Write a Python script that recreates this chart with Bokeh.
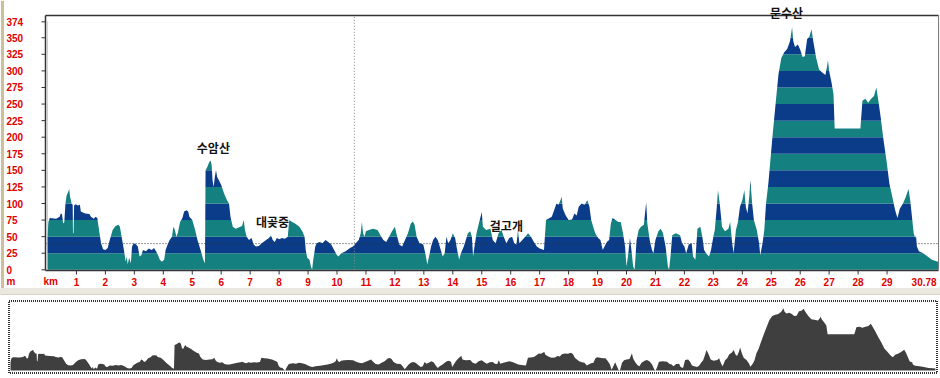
from bokeh.plotting import figure
from bokeh.models import Range1d
from bokeh.layouts import column
from bokeh.core.properties import value
from bokeh.embed import file_html
from bokeh.resources import INLINE

# ---------------- data ----------------
km = [0.00, 0.03, 0.08, 0.30, 0.42, 0.46, 0.50, 0.54, 0.58, 0.62, 0.66, 0.72, 0.75, 0.78, 0.83, 0.87, 0.88, 0.90,
      0.92, 0.97, 1.05, 1.12, 1.15, 1.30, 1.45, 1.50, 1.60, 1.66, 1.72, 1.78, 1.85, 1.92, 2.00, 2.08, 2.15, 2.25,
      2.35, 2.45, 2.50, 2.58, 2.64, 2.70, 2.74, 2.77, 2.82, 2.88, 2.92, 2.98, 3.06, 3.12, 3.18, 3.24, 3.30, 3.40,
      3.50, 3.60, 3.68, 3.75, 3.82, 3.88, 3.95, 4.03, 4.08, 4.15, 4.22, 4.30, 4.35, 4.40, 4.45, 4.50, 4.58, 4.66,
      4.72, 4.80, 4.86, 4.90, 5.00, 5.10, 5.18, 5.25, 5.32, 5.38, 5.44, 5.46, 5.52, 5.58, 5.63, 5.67, 5.70, 5.74,
      5.78, 5.82, 5.86, 5.92, 6.00, 6.10, 6.20, 6.27, 6.32, 6.40, 6.50, 6.62, 6.72, 6.78, 6.82, 6.88, 6.96, 7.05,
      7.12, 7.20, 7.30, 7.40, 7.55, 7.65, 7.72, 7.78, 7.85, 7.92, 8.00, 8.10, 8.20, 8.30, 8.35, 8.45, 8.55, 8.70,
      8.80, 8.88, 8.92, 8.97, 9.05, 9.10, 9.14, 9.18, 9.25, 9.30, 9.40, 9.50, 9.60, 9.70, 9.80, 9.90, 10.00, 10.05,
      10.15, 10.30, 10.45, 10.55, 10.65, 10.75, 10.82, 10.86, 10.90, 10.95, 11.00, 11.10, 11.25, 11.40, 11.50,
      11.60, 11.70, 11.80, 11.90, 12.00, 12.05, 12.15, 12.25, 12.35, 12.45, 12.55, 12.62, 12.68, 12.75, 12.85,
      12.98, 13.05, 13.12, 13.18, 13.25, 13.32, 13.40, 13.48, 13.55, 13.65, 13.72, 13.78, 13.84, 13.92, 14.00,
      14.08, 14.15, 14.22, 14.28, 14.38, 14.45, 14.52, 14.60, 14.66, 14.70, 14.75, 14.82, 14.90, 14.96, 15.00,
      15.04, 15.15, 15.30, 15.38, 15.48, 15.58, 15.68, 15.76, 15.85, 15.95, 16.05, 16.12, 16.20, 16.25, 16.30,
      16.40, 16.50, 16.60, 16.70, 16.80, 16.90, 17.00, 17.15, 17.22, 17.30, 17.42, 17.50, 17.58, 17.65, 17.72,
      17.76, 17.80, 17.90, 18.00, 18.12, 18.20, 18.28, 18.35, 18.45, 18.55, 18.65, 18.72, 18.78, 18.85, 18.92,
      19.02, 19.10, 19.18, 19.24, 19.32, 19.40, 19.46, 19.52, 19.62, 19.72, 19.80, 19.88, 19.95, 20.00, 20.05,
      20.12, 20.17, 20.23, 20.28, 20.35, 20.42, 20.50, 20.60, 20.68, 20.72, 20.80, 20.88, 20.93, 21.00, 21.10,
      21.18, 21.26, 21.35, 21.43, 21.47, 21.52, 21.58, 21.70, 21.85, 21.92, 22.00, 22.06, 22.15, 22.25, 22.30,
      22.38, 22.45, 22.55, 22.62, 22.68, 22.75, 22.85, 22.92, 23.00, 23.05, 23.12, 23.16, 23.22, 23.30, 23.40,
      23.52, 23.58, 23.65, 23.70, 23.78, 23.85, 23.92, 24.00, 24.07, 24.12, 24.18, 24.24, 24.28, 24.34, 24.40,
      24.50, 24.58, 24.62, 24.70, 24.76, 24.82, 24.90, 24.96, 25.05, 25.15, 25.25, 25.35, 25.45, 25.55, 25.65,
      25.72, 25.76, 25.82, 25.92, 26.00, 26.08, 26.16, 26.24, 26.32, 26.39, 26.45, 26.55, 26.65, 26.75, 26.87,
      26.92, 26.96, 27.00, 27.08, 27.15, 27.19, 28.08, 28.15, 28.25, 28.35, 28.45, 28.55, 28.63, 28.70, 28.78,
      28.88, 28.98, 29.08, 29.18, 29.28, 29.36, 29.44, 29.55, 29.65, 29.74, 29.80, 29.86, 29.92, 29.97, 30.00,
      30.03, 30.10, 30.25, 30.40, 30.55, 30.70, 30.78]
elev = [48, 72, 78, 77, 80, 85, 84, 70, 72, 100, 112, 118, 122, 110, 100, 98, 55, 55,
        97, 99, 97, 98, 88, 85, 84, 80, 77, 80, 78, 60, 40, 31, 30, 33, 45, 60,
        66, 68, 65, 45, 30, 12, 20, 8, 18, 10, 35, 40, 38, 35, 20, 22, 30, 28,
        32, 30, 33, 28, 22, 15, 12, 15, 30, 38, 45, 50, 65, 60, 50, 55, 72, 78,
        88, 90, 88, 80, 75, 60, 45, 35, 25, 15, 10, 150, 155, 162, 165, 158, 135, 125,
        140, 150, 140, 135, 128, 115, 105, 100, 80, 65, 62, 64, 66, 75, 60, 50, 45, 48,
        38, 35, 36, 40, 45, 48, 52, 45, 42, 48, 46, 48, 47, 50, 75, 72, 70, 65,
        58, 50, 30, 18, 15, 5, 0, 15, 35, 40, 42, 40, 45, 42, 38, 30, 22, 20,
        25, 28, 33, 35, 40, 45, 55, 72, 55, 50, 58, 60, 62, 60, 52,
        45, 42, 50, 58, 65, 55, 38, 35, 45, 55, 70, 73, 68, 50, 40,
        38, 25, 8, 20, 35, 45, 50, 45, 35, 20, 25, 50, 40, 45, 55,
        48, 30, 15, 25, 35, 45, 55, 58, 50, 20, 35, 55, 70, 80, 87,
        65, 60, 62, 45, 40, 55, 60, 50, 40, 48, 50, 40, 38, 60, 40,
        45, 50, 55, 50, 42, 35, 32, 30, 75, 77, 80, 90, 100, 98, 105,
        110, 92, 82, 75, 76, 85, 82, 95, 100, 98, 105, 95, 75, 65, 55,
        48, 45, 30, 35, 42, 45, 70, 78, 75, 72, 72, 55, 35, 5, 20,
        48, 30, 5, 0, 45, 60, 65, 68, 102, 70, 45, 30, 25, 45, 58,
        62, 55, 35, 5, 0, 20, 52, 55, 52, 40, 35, 25, 38, 40, 20,
        15, 62, 65, 50, 30, 25, 20, 30, 50, 60, 95, 120, 100, 65, 58,
        62, 72, 40, 25, 60, 72, 95, 105, 120, 95, 85, 110, 135, 100, 75,
        60, 40, 22, 40, 60, 100, 130, 160, 205, 250, 295, 320, 328, 333, 345,
        366, 345, 336, 340, 332, 321, 322, 348, 352, 363, 345, 320, 302, 298, 294,
        305, 316, 300, 283, 265, 213, 213, 255, 258, 252, 258, 262, 275, 255, 230,
        195, 165, 130, 110, 90, 78, 92, 100, 110, 122, 105, 80, 55, 48, 52,
        35, 28, 25, 20, 15, 13, 12]

y_ticks = [0, 25, 50, 75, 100, 125, 150, 175, 200, 225, 250, 275, 300, 325, 350, 374]
band_edges = [0, 25, 50, 75, 100, 125, 150, 175, 200, 225, 250, 275, 300, 325, 350, 375]
x_ticks = list(range(1, 30))
x_tick_labels = [str(k) for k in x_ticks]
route_len = 30.78
end_label = "30.78"
unit_labels = ["m", "km"]
peak_names = ["수암산", "대곶중", "걸고개", "문수산"]
peak_km = [5.73, 7.77, 15.85, 25.53]
peak_label_y = [184, 73, 67, 388]
mean_elev = 39.5
cursor_km = 10.6

TEAL = "#14807f"
BLUE = "#0b3c89"
RED = "#e00000"
AXIS = "#333333"
TICK_FONT = value("Liberation Sans")

W, H1, H2 = 940, 288, 90

# ---------------- main panel (frame = whole canvas; pixels -> data helpers) ----------------
PX_PER_KM = 28.95
PX_PER_M = 0.663
X0_PX, Y0_PX = 47.0, 269.3          # pixel position of (0 km, 0 m)


def kx(px):
    return (px - X0_PX) / PX_PER_KM


def my(py):
    return (Y0_PX - py) / PX_PER_M


Y_TOP = my(15)
AX_X = kx(45)
AX_Y = my(270)

p1 = figure(width=W, height=H1,
            x_range=Range1d(kx(0), kx(W)), y_range=Range1d(my(H1), my(0)),
            output_backend="svg", toolbar_location=None,
            x_axis_location=None, y_axis_location=None, min_border=0)
p1.background_fill_color = "white"
p1.border_fill_color = "white"
p1.outline_line_color = None
p1.grid.visible = False

# striped fill: horizontal bands masked above the profile
lows = band_edges[:-1]
highs = band_edges[1:]
cols = [TEAL if i % 2 == 0 else BLUE for i in range(len(lows))]
p1.quad(left=0, right=route_len, bottom=lows, top=highs, fill_color=cols, line_color=None)
p1.varea(x=km, y1=elev, y2=Y_TOP, fill_color="white")

# frame / axes
p1.segment(x0=[AX_X, AX_X, AX_X], y0=[Y_TOP, AX_Y, Y_TOP], x1=[route_len, route_len, AX_X], y1=[Y_TOP, AX_Y, AX_Y],
           line_color=AXIS, line_width=1.5)
p1.segment(x0=[route_len], y0=[Y_TOP], x1=[route_len], y1=[0], line_color="#777777", line_width=1)
p1.segment(x0=kx(2), y0=my(0), x1=kx(2), y1=my(H1), line_color="#cdbf9a", line_width=3)

# ticks
p1.segment(x0=[AX_X] * len(y_ticks), y0=y_ticks, x1=[kx(41)] * len(y_ticks), y1=y_ticks,
           line_color=AXIS, line_width=1)
p1.segment(x0=x_ticks, y0=[AX_Y] * len(x_ticks), x1=x_ticks, y1=[my(274)] * len(x_ticks),
           line_color=AXIS, line_width=1)

# tick labels
lab_kw = dict(text_color=RED, text_font=TICK_FONT, text_font_style="bold", text_font_size="10px",
              text_baseline="middle")
p1.text(x=[kx(6)] * len(y_ticks), y=y_ticks, text=[str(t) for t in y_ticks], text_align="left", **lab_kw)
p1.text(x=x_ticks, y=[my(281)] * len(x_ticks), text=x_tick_labels, text_align="center", **lab_kw)
p1.text(x=[kx(6), kx(43)], y=[my(281)] * 2, text=unit_labels, text_align="left", **lab_kw)
p1.text(x=[route_len], y=[my(281)], x_offset=-27, text=[end_label], text_align="left", **lab_kw)

# reference lines
p1.segment(x0=[AX_X], y0=[mean_elev], x1=[route_len], y1=[mean_elev], line_color="#333333",
           line_dash="1 2", line_width=1)
p1.segment(x0=[cursor_km], y0=[0], x1=[cursor_km], y1=[Y_TOP], line_color="#888888",
           line_dash="1 2", line_width=1)

# peak names
p1.text(x=peak_km, y=peak_label_y, text=peak_names, text_align="center", text_baseline="middle",
        text_color="#111111", text_font=value("Noto Sans CJK KR"), text_font_style="bold",
        text_font_size="12px")

# ---------------- overview (frame = whole canvas) ----------------
OV_PX_PER_KM = 30.05
OV_PX_PER_M = 0.17
OV_X0, OV_Y0 = 10.0, 82.0           # local pixel position of (0 km, 0 m)


def okx(px):
    return (px - OV_X0) / OV_PX_PER_KM


def omy(py):
    return (OV_Y0 - py) / OV_PX_PER_M


p2 = figure(width=W, height=H2,
            x_range=Range1d(okx(0), okx(W)), y_range=Range1d(omy(H2), omy(0)),
            output_backend="svg", toolbar_location=None,
            x_axis_location=None, y_axis_location=None, min_border=0)
p2.grid.visible = False
p2.background_fill_color = "white"
p2.border_fill_color = "white"
p2.outline_line_color = None
# window separator strip between the two panels
p2.quad(left=okx(0), right=okx(W), top=omy(0), bottom=omy(6), fill_color="#ebe8df",
        line_color="#d8d4c8", line_width=1)
p2.varea(x=km, y1=0, y2=elev, fill_color="#3f3f3f")
p2.quad(left=okx(8.5), right=okx(936.5), top=omy(12.5), bottom=omy(84.5), fill_color=None,
        line_color="#333333", line_width=2, line_dash="1 1")

layout = column(p1, p2)
open("out.html", "w").write(file_html(layout, INLINE))
